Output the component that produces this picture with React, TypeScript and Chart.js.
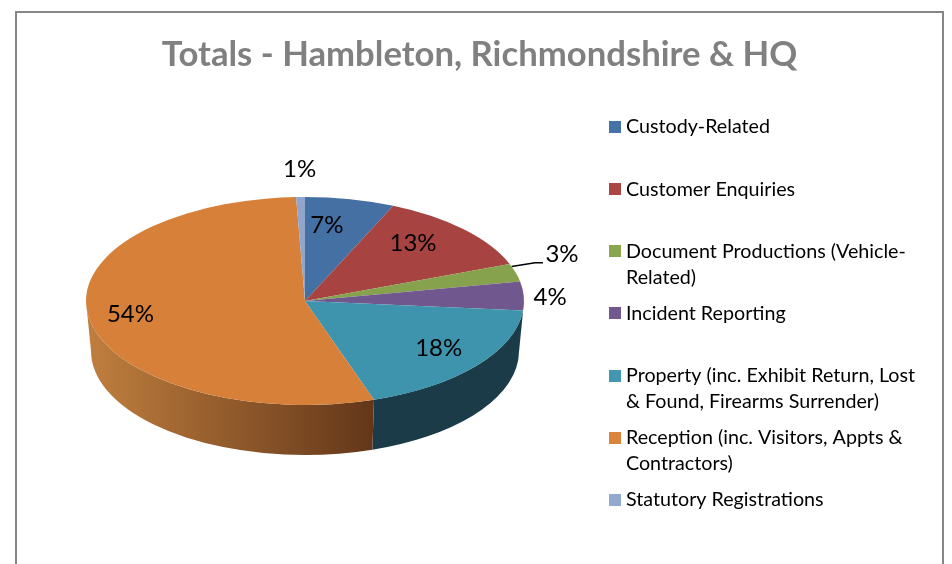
import React, { useEffect, useRef } from "react";
import { Chart, registerables } from "chart.js";

Chart.register(...registerables);

const titleText = "Totals - Hambleton, Richmondshire & HQ";
const legendLines = [
  ["Custody-Related"],
  ["Customer Enquiries"],
  ["Document Productions (Vehicle-", "Related)"],
  ["Incident Reporting"],
  ["Property (inc. Exhibit Return, Lost", "& Found, Firearms Surrender)"],
  ["Reception (inc. Visitors, Appts &", "Contractors)"],
  ["Statutory Registrations"],
];
const shares = [6.6, 12.6, 2.8, 4.45, 18.45, 54.45, 0.65];
const legendColors = ["#4572A7", "#AA4643", "#89A54E", "#71588F", "#4198AF", "#DB843D", "#93A9CF"];
const topColors = ["#4470A4", "#A74441", "#87A24C", "#70578D", "#3F94AD", "#D6803A", "#91A6CC"];
const wallColors = ["#2a4566", "#682a28", "#53652f", "#453657", "#1a3b47", "#c07f3e", "#5a6780"];

// Canvas sits inside the frame; all layout figures below are canvas pixels.
const CANVAS_W = 925;
const CANVAS_H = 551;
const TOP = { x: 288, y: 288, rx: 219, ry: 104 };
const BOTTOM = { x: 288, y: 338, rx: 214, ry: 104 };
const LABEL_RADIUS = 0.75;
const labelNudges = [[-12, 1], [-11, -4], [99, -25], [81, 0], [5, -1], [-13, -1], [-2, -54]];
const LEGEND = { box: 592, text: 609, first: 114, pitch: 62.15, line: 26, size: 12 };
const LABEL_FONT = "24px Lato";
const LEGEND_FONT = "19.7px Lato";

const pie3d = {
  id: "pie3d",
  beforeDatasetsDraw(chart: any) {
    const ctx = chart.ctx;
    const arcs = chart.getDatasetMeta(0).data;
    ctx.save();
    arcs.forEach((arc: any, i: number) => {
      const lo = Math.max(arc.startAngle, 0);
      const hi = Math.min(arc.endAngle, Math.PI);
      if (hi <= lo) return;
      ctx.beginPath();
      ctx.ellipse(TOP.x, TOP.y, TOP.rx, TOP.ry, 0, lo, hi);
      ctx.ellipse(BOTTOM.x, BOTTOM.y, BOTTOM.rx, BOTTOM.ry, 0, hi, lo, true);
      ctx.closePath();
      if (i === 5) {
        const g = ctx.createLinearGradient(TOP.x - TOP.rx, 0, TOP.x + 66, 0);
        g.addColorStop(0, wallColors[5]);
        g.addColorStop(1, "#64371a");
        ctx.fillStyle = g;
      } else {
        ctx.fillStyle = wallColors[i];
      }
      ctx.fill();
    });
    ctx.restore();
    const a = arcs[0];
    ctx.save();
    ctx.translate(TOP.x, TOP.y);
    ctx.scale(TOP.rx / a.outerRadius, TOP.ry / a.outerRadius);
    ctx.translate(-a.x, -a.y);
  },
  afterDatasetsDraw(chart: any) {
    const ctx = chart.ctx;
    ctx.restore();
    const arcs = chart.getDatasetMeta(0).data;
    const values: number[] = chart.data.datasets[0].data;
    const total = values.reduce((s, v) => s + v, 0);

    ctx.save();
    ctx.fillStyle = "#000";
    ctx.font = LABEL_FONT;
    ctx.textAlign = "center";
    ctx.textBaseline = "middle";
    arcs.forEach((arc: any, i: number) => {
      const mid = (arc.startAngle + arc.endAngle) / 2;
      const px = TOP.x + TOP.rx * LABEL_RADIUS * Math.cos(mid) + labelNudges[i][0];
      const py = TOP.y + TOP.ry * LABEL_RADIUS * Math.sin(mid) + labelNudges[i][1];
      ctx.fillText(Math.round((values[i] / total) * 100) + "%", px, py);
      if (i === 2) {
        ctx.strokeStyle = "#000";
        ctx.lineWidth = 1.5;
        ctx.beginPath();
        ctx.moveTo(TOP.x + TOP.rx * Math.cos(mid) - 4, TOP.y + TOP.ry * Math.sin(mid) - 6);
        ctx.lineTo(px - 27, py + 8);
        ctx.lineTo(px - 19, py + 8);
        ctx.stroke();
      }
    });

    ctx.font = LEGEND_FONT;
    ctx.textAlign = "left";
    legendLines.forEach((lines, i) => {
      const y = LEGEND.first + LEGEND.pitch * i;
      ctx.fillStyle = legendColors[i];
      ctx.fillRect(LEGEND.box, Math.round(y - LEGEND.size / 2), LEGEND.size, LEGEND.size);
      ctx.fillStyle = "#000";
      lines.forEach((t, j) => ctx.fillText(t, LEGEND.text, y + j * LEGEND.line));
    });
    ctx.restore();
  },
};

export default function App() {
  const ref = useRef<HTMLCanvasElement>(null);
  useEffect(() => {
    const chart = new Chart(ref.current as HTMLCanvasElement, {
      type: "pie",
      data: {
        labels: legendLines.map((l) => l.join(" ")),
        datasets: [
          { data: shares, backgroundColor: topColors, borderWidth: 0, clip: false } as any,
        ],
      },
      options: {
        responsive: false,
        animation: false,
        events: [],
        plugins: {
          legend: { display: false },
          tooltip: { enabled: false },
          title: {
            display: true,
            text: titleText,
            color: "#808080",
            font: { family: "Lato", size: 34.7, weight: "bold" },
            padding: { top: 21, bottom: 10 },
          },
        },
      },
      plugins: [pie3d],
    });
    return () => chart.destroy();
  }, []);
  return (
    <div
      style={{
        position: "absolute",
        left: 15,
        top: 11,
        width: CANVAS_W,
        height: CANVAS_H,
        borderLeft: "2px solid #868686",
        borderTop: "2px solid #868686",
        borderRight: "2px solid #868686",
        background: "#fff",
      }}
    >
      <canvas ref={ref} width={CANVAS_W} height={CANVAS_H} style={{ display: "block" }} />
    </div>
  );
}
